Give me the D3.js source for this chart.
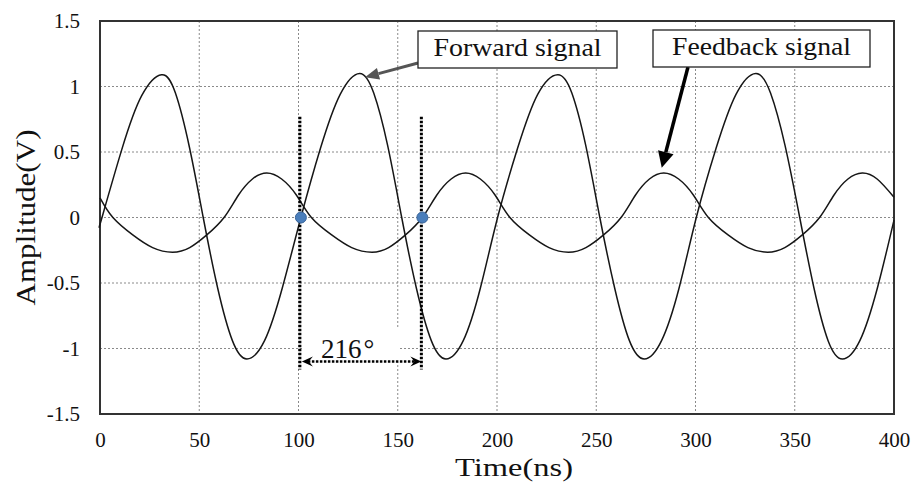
<!DOCTYPE html>
<html>
<head>
<meta charset="utf-8">
<script src="https://cdn.jsdelivr.net/npm/d3@7"></script>
<style>
  body { margin: 0; background: #fff; }
  svg { display: block; font-family: "Liberation Serif", "Times New Roman", Times, serif; }
</style>
</head>
<body>
<script>
// 軸の目盛り
const timeTicks = [0, 50, 100, 150, 200, 250, 300, 350, 400];
const voltTicks = [-1.5, -1, -0.5, 0, 0.5, 1, 1.5];

// 前進波 [時間(ns), 電圧(V)]
const forwardSignal = [
  [0, -0.05], [1, 0], [11, 0.52], [21, 0.93], [31, 1.09], [38, 0.95], [45, 0.54], [52, 0],
  [59.3, -0.54], [66.7, -0.94], [74, -1.08], [82.9, -0.94], [91.8, -0.54], [101.2, 0],
  [111.1, 0.53], [121, 0.94], [130.8, 1.1], [137.9, 0.95], [144.9, 0.55], [152, 0],
  [159.4, -0.54], [166.9, -0.94], [174.3, -1.08], [183, -0.94], [191.6, -0.54], [200.3, 0],
  [210.4, 0.53], [220.5, 0.94], [230.6, 1.09], [237.7, 0.95], [244.7, 0.55], [251.8, 0],
  [259.3, -0.54], [266.7, -0.94], [274.2, -1.08], [282.9, -0.94], [291.7, -0.54], [300.4, 0],
  [310.4, 0.53], [320.4, 0.94], [330.4, 1.1], [337.8, 0.95], [345.1, 0.55], [352.5, 0],
  [359.7, -0.54], [366.8, -0.94], [374, -1.08], [382.8, -0.94], [391.6, -0.54], [400, -0.02]
];

// 帰還波
const feedbackSignal = [
  [0, 0.15], [6.5, 0], [16.5, -0.133], [26.5, -0.23], [36.5, -0.265], [45.2, -0.23], [53.8, -0.133],
  [62.5, 0], [69.7, 0.17], [76.8, 0.294], [84, 0.34], [91.5, 0.294], [99, 0.17], [106.5, 0],
  [116.7, -0.133], [126.8, -0.23], [137, -0.265], [145.4, -0.23], [153.9, -0.133], [162.4, 0],
  [169.6, 0.17], [176.9, 0.294], [184.2, 0.34], [191.6, 0.294], [199.1, 0.17], [206.5, 0],
  [216.3, -0.133], [226.2, -0.23], [236, -0.265], [244.8, -0.23], [253.7, -0.133], [262.5, 0],
  [269.7, 0.17], [276.8, 0.294], [284, 0.34], [291.5, 0.294], [299, 0.17], [306.5, 0],
  [316.4, -0.133], [326.4, -0.23], [336.3, -0.265], [345, -0.23], [353.8, -0.133], [362.5, 0],
  [369.7, 0.17], [376.8, 0.294], [384, 0.34], [391.5, 0.294], [400, 0.155]
];

// ゼロクロス点と位相差
const zeroPoints = [101.2, 162.4];
const phaseLabel = "216";

const width = 916;
const height = 485;
const margin = { left: 100, right: 22, top: 21, bottom: 71 };

const svg = d3.select("body").append("svg")
  .attr("width", width)
  .attr("height", height);

// スケール
const x = d3.scaleLinear().domain([0, 400]).range([margin.left, width - margin.right]);
const y = d3.scaleLinear().domain([-1.5, 1.5]).range([height - margin.bottom, margin.top]);

// グリッド
const grid = svg.append("g")
  .attr("stroke", "#8a8a8a")
  .attr("stroke-width", 1)
  .attr("stroke-dasharray", "2,2");

grid.selectAll("line.v")
  .data(timeTicks.slice(1, -1))
  .enter().append("line")
  .attr("x1", d => x(d)).attr("x2", d => x(d))
  .attr("y1", y(1.5)).attr("y2", y(-1.5));

grid.selectAll("line.h")
  .data(voltTicks.slice(1, -1))
  .enter().append("line")
  .attr("x1", x(0)).attr("x2", x(400))
  .attr("y1", d => y(d)).attr("y2", d => y(d));

// 位相差ラベルの白背景
svg.append("rect")
  .attr("x", x(zeroPoints[0]) + 2)
  .attr("y", y(-0.84))
  .attr("width", x(150) - x(zeroPoints[0]))
  .attr("height", y(-1.105) - y(-0.84))
  .attr("fill", "#fff");

// 軸
const xAxis = svg.append("g")
  .attr("transform", "translate(0," + y(-1.5) + ")")
  .call(d3.axisBottom(x).tickValues(timeTicks).tickSize(0).tickPadding(18));

const yAxis = svg.append("g")
  .attr("transform", "translate(" + x(0) + ",0)")
  .call(d3.axisLeft(y).tickValues(voltTicks).tickSize(0).tickPadding(20).tickFormat(d => String(d)));

[xAxis, yAxis].forEach(function (a) {
  a.attr("font-family", null).attr("font-size", null);
  a.select(".domain").remove();
  a.selectAll("text")
    .attr("fill", "#111")
    .style("font-size", "21px");
});

// 外枠
svg.append("rect")
  .attr("x", x(0)).attr("y", y(1.5))
  .attr("width", x(400) - x(0))
  .attr("height", y(-1.5) - y(1.5))
  .attr("fill", "none")
  .attr("stroke", "#333")
  .attr("stroke-width", 2);

// 信号線
const line = d3.line()
  .x(d => x(d[0]))
  .y(d => y(d[1]))
  .curve(d3.curveNatural);

svg.selectAll("path.signal")
  .data([forwardSignal, feedbackSignal])
  .enter().append("path")
  .attr("class", "signal")
  .attr("d", line)
  .attr("fill", "none")
  .attr("stroke", "#161616")
  .attr("stroke-width", 1.5);

// 縦の点線
svg.selectAll("line.mark")
  .data(zeroPoints)
  .enter().append("line")
  .attr("x1", d => x(d) - 1).attr("x2", d => x(d) - 1)
  .attr("y1", y(0.77)).attr("y2", y(-1.16))
  .attr("stroke", "#000")
  .attr("stroke-width", 3)
  .attr("stroke-dasharray", "2.5,1.5");

// 横の両矢印
const arrowY = y(-1.1);
const ax1 = x(zeroPoints[0]) + 1;
const ax2 = x(zeroPoints[1]) - 1;
svg.append("line")
  .attr("x1", ax1 + 6).attr("x2", ax2 - 6)
  .attr("y1", arrowY).attr("y2", arrowY)
  .attr("stroke", "#000")
  .attr("stroke-width", 2.5)
  .attr("stroke-dasharray", "2.5,1.5");

svg.append("path")
  .attr("d", "M" + ax1 + "," + arrowY + "l11,-5l-4,5l4,5z" +
             "M" + ax2 + "," + arrowY + "l-11,-5l4,5l-4,5z")
  .attr("fill", "#000");

// 位相差ラベル
const phase = svg.append("text")
  .attr("x", x(zeroPoints[0]) + 20)
  .attr("y", y(-1.07))
  .attr("font-size", 27)
  .attr("fill", "#111")
  .text(phaseLabel);
phase.append("tspan").attr("dx", 2).text("°");

// ゼロクロス点
svg.selectAll("circle")
  .data(zeroPoints)
  .enter().append("circle")
  .attr("cx", d => x(d))
  .attr("cy", y(0))
  .attr("r", 5.5)
  .attr("fill", "#4a7ebb")
  .attr("stroke", "#3a659a")
  .attr("stroke-width", 1);

// 矢印
function arrow(x1, y1, x2, y2, color, w, len, half) {
  const ang = Math.atan2(y2 - y1, x2 - x1);
  const bx = x2 - len * Math.cos(ang);
  const by = y2 - len * Math.sin(ang);
  svg.append("line")
    .attr("x1", x1).attr("y1", y1).attr("x2", bx).attr("y2", by)
    .attr("stroke", color).attr("stroke-width", w);
  const px = -Math.sin(ang) * half;
  const py = Math.cos(ang) * half;
  svg.append("path")
    .attr("d", "M" + x2 + "," + y2 + "L" + (bx + px) + "," + (by + py) + "L" + (bx - px) + "," + (by - py) + "Z")
    .attr("fill", color);
}

// 注記ボックス
function callout(bx, by, bw, bh, label, textLen) {
  svg.append("rect")
    .attr("x", bx).attr("y", by)
    .attr("width", bw).attr("height", bh)
    .attr("fill", "#fff")
    .attr("stroke", "#222")
    .attr("stroke-width", 1.3);
  svg.append("text")
    .attr("x", bx + bw / 2)
    .attr("y", by + 25)
    .attr("text-anchor", "middle")
    .attr("font-size", 26)
    .attr("fill", "#111")
    .attr("textLength", textLen)
    .attr("lengthAdjust", "spacingAndGlyphs")
    .text(label);
}

arrow(418, 63, x(133.5), y(1.07), "#555", 3, 14, 6);
callout(418, 31, 199, 37, "Forward signal", 168);

arrow(688, 67, x(283), y(0.38), "#000", 3.5, 16, 8);
callout(653, 30, 217, 37, "Feedback signal", 179);

// 軸タイトル
svg.append("text")
  .attr("transform", "translate(35," + y(0) + ") rotate(-90)")
  .attr("text-anchor", "middle")
  .attr("font-size", 28)
  .attr("fill", "#111")
  .attr("textLength", 176)
  .attr("lengthAdjust", "spacingAndGlyphs")
  .text("Amplitude(V)");

svg.append("text")
  .attr("x", 514)
  .attr("y", 476)
  .attr("text-anchor", "middle")
  .attr("font-size", 26)
  .attr("fill", "#111")
  .attr("textLength", 118)
  .attr("lengthAdjust", "spacingAndGlyphs")
  .text("Time(ns)");
</script>
</body>
</html>
